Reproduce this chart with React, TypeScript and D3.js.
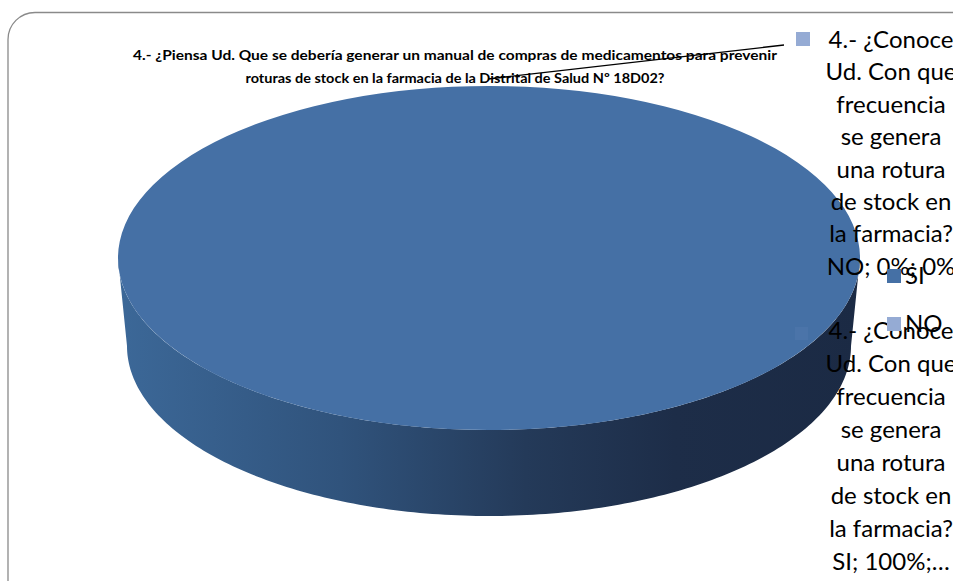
import React from "react";
import * as d3 from "d3";

const categories = ["SI", "NO"];
const values = [100, 0];
const seriesNameLines = ["4.- ¿Conoce", "Ud. Con que", "frecuencia", "se genera", "una rotura", "de stock en", "la farmacia?"];
const noLabelLast = "NO; 0%; 0%";
const siLabelLast = "SI; 100%;…";
const titleLines = [
  "4.- ¿Piensa Ud. Que se debería generar un manual de compras de medicamentos para prevenir",
  "roturas de stock en la farmacia de la Distrital de Salud Nº 18D02?",
];

const W = 953;
const H = 581;
const FONT = "Lato, 'Open Sans', sans-serif";

export default function App() {
  const cx = 489, cy = 258, rx = 371, ry = 172;
  const depth = 88;
  const rx2 = 362, ry2 = 170;

  const pie = d3.pie<number>().sort(null).value((d) => d);
  const arcs = pie(values);

  const pt = (a: number, ex: number, ey: number, ccx: number, ccy: number) => [
    ccx + ex * Math.sin(a),
    ccy - ey * Math.cos(a),
  ];

  const slicePath = (s: number, e: number) => {
    if (e - s <= 0) return "";
    if (e - s >= 2 * Math.PI - 1e-9) {
      return `M${cx - rx},${cy} A${rx},${ry} 0 1 0 ${cx + rx},${cy} A${rx},${ry} 0 1 0 ${cx - rx},${cy} Z`;
    }
    const [x0, y0] = pt(s, rx, ry, cx, cy);
    const [x1, y1] = pt(e, rx, ry, cx, cy);
    const large = e - s > Math.PI ? 1 : 0;
    return `M${cx},${cy} L${x0},${y0} A${rx},${ry} 0 ${large} 1 ${x1},${y1} Z`;
  };

  const steps = d3.range(0, 181).map((i) => Math.PI / 2 + (i / 180) * Math.PI);
  const topArc = steps.map((a) => pt(a, rx, ry, cx, cy));
  const botArc = steps.map((a) => pt(a, rx2, ry2, cx, cy + depth)).reverse();
  const line = d3.line();
  const sidePath = line([...topArc, ...botArc] as [number, number][]) + "Z";

  const topColor = "#4570a5";
  const lightColor = "#95abd4";
  const fs = 24;

  return (
    <svg width={W} height={H} style={{ position: "absolute", left: 0, top: 0, background: "#fff" }}>
      <defs>
        <linearGradient id="sideGrad" x1={cx - rx} x2={cx + rx} y1={0} y2={0} gradientUnits="userSpaceOnUse">
          <stop offset="0" stopColor="#3c6898" />
          <stop offset="0.3" stopColor="#30537c" />
          <stop offset="0.55" stopColor="#243a59" />
          <stop offset="0.75" stopColor="#1d2d48" />
          <stop offset="1" stopColor="#1b2a44" />
        </linearGradient>
      </defs>
      <rect x={8} y={12.5} width={985} height={620} rx={27} ry={27} fill="#fff" stroke="#8a8a8a" strokeWidth={1.3} />

      <path d={sidePath} fill="url(#sideGrad)" />
      {arcs.map((a, i) => (
        <path key={categories[i]} d={slicePath(a.startAngle, a.endAngle)} fill={i === 0 ? topColor : lightColor} />
      ))}

      {titleLines.map((t, i) => (
        <text
          key={i}
          x={455}
          y={60 + i * 22.5}
          textAnchor="middle"
          fontFamily={FONT}
          fontWeight="bold"
          fontSize={13.5}
          fill="#000"
          textLength={i === 0 ? 644 : 419}
          lengthAdjust="spacingAndGlyphs"
        >
          {t}
        </text>
      ))}
      <line x1={488} y1={79} x2={784} y2={45} stroke="#000" strokeWidth={1.3} />

      <rect x={796} y={32} width={14} height={14} fill={lightColor} />
      {[...seriesNameLines, noLabelLast].map((t, i) => (
        <text key={"a" + i} x={891} y={48 + i * 32.4} textAnchor="middle" fontFamily={FONT} fontSize={fs} fill="#000">
          {t}
        </text>
      ))}

      <rect x={795} y={327} width={13} height={13} fill={lightColor} opacity={0.08} />
      {[...seriesNameLines, siLabelLast].map((t, i) => (
        <text key={"b" + i} x={891} y={339 + i * 33} textAnchor="middle" fontFamily={FONT} fontSize={fs} fill="#000">
          {t}
        </text>
      ))}

      <rect x={887} y={269} width={14} height={14} fill={topColor} />
      <text x={905} y={284} fontFamily={FONT} fontSize={fs} fill="#000">{categories[0]}</text>
      <rect x={887} y={317} width={14} height={14} fill={lightColor} />
      <text x={905} y={332} fontFamily={FONT} fontSize={fs} fill="#000">{categories[1]}</text>
    </svg>
  );
}
